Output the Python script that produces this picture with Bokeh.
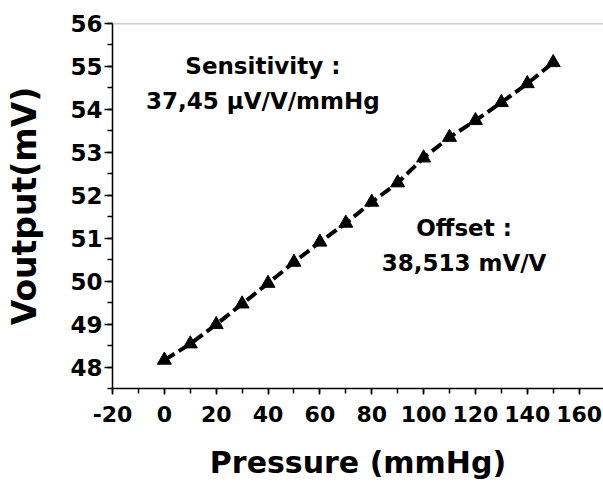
from bokeh.plotting import figure
from bokeh.models import SingleIntervalTicker, Span, Label, PrintfTickFormatter
from bokeh.embed import file_html
from bokeh.resources import INLINE

pressure = [0, 10, 20, 30, 40, 50, 60, 70, 80, 90, 100, 110, 120, 130, 140, 150]
voutput = [48.16, 48.54, 48.99, 49.47, 49.95, 50.44, 50.91, 51.35, 51.84, 52.29,
           52.87, 53.35, 53.74, 54.16, 54.60, 55.09]

FONT = "DejaVu Sans"

p = figure(width=603, height=486, output_backend="svg", toolbar_location=None,
           x_range=(-20, 169.4), y_range=(47.5, 56),
           min_border_left=112, min_border_right=0, min_border_top=23, min_border_bottom=98)
p.outline_line_color = None
p.xgrid.visible = False
p.ygrid.visible = False
p.background_fill_color = "white"

p.add_layout(Span(location=56, dimension="width", line_color="#a0a0a0", line_width=1.5))

p.line(pressure, voutput, line_color="black", line_width=4, line_dash="12 5")
p.scatter(pressure, voutput, marker="triangle", size=14, fill_color="black", line_color="black")

for ax, tick in ((p.xaxis[0], SingleIntervalTicker(interval=20, num_minor_ticks=2)),
                 (p.yaxis[0], SingleIntervalTicker(interval=1, num_minor_ticks=2))):
    ax.ticker = tick
    ax.formatter = PrintfTickFormatter(format="%d")
    ax.axis_line_color = "black"
    ax.axis_line_width = 1.5
    ax.major_tick_line_color = "black"
    ax.minor_tick_line_color = "black"
    ax.major_tick_line_width = 1.5
    ax.minor_tick_line_width = 1.5
    ax.major_tick_in = 0
    ax.minor_tick_in = 0
    ax.major_label_text_font = FONT
    ax.major_label_text_font_style = "bold"
    ax.major_label_text_color = "black"
    ax.axis_label_text_font = FONT
    ax.axis_label_text_font_style = "bold"
    ax.axis_label_text_color = "black"

p.xaxis.major_tick_out = 6
p.xaxis.minor_tick_out = 5
p.yaxis.major_tick_out = 8
p.yaxis.minor_tick_out = 5
p.xaxis.major_label_text_font_size = "22px"
p.yaxis.major_label_text_font_size = "23px"
p.xaxis.major_label_standoff = 11
p.yaxis.major_label_standoff = 2
p.xaxis.axis_label = "Pressure (mmHg)"
p.yaxis.axis_label = "Voutput(mV)"
p.xaxis.axis_label_text_font_size = "30px"
p.yaxis.axis_label_text_font_size = "33px"
p.xaxis.axis_label_standoff = 20
p.yaxis.axis_label_standoff = 23

annotations = [(38, 55.0, "Sensitivity :"), (38, 54.2, "37,45 µV/V/mmHg"),
               (115.6, 51.23, "Offset :"), (115.6, 50.42, "38,513 mV/V")]
for x, y, t in annotations:
    p.add_layout(Label(x=x, y=y, text=t, text_align="center", text_baseline="middle",
                       text_font=FONT, text_font_style="bold", text_font_size="23px",
                       text_color="black"))

open("out.html", "w").write(file_html(p, INLINE))
